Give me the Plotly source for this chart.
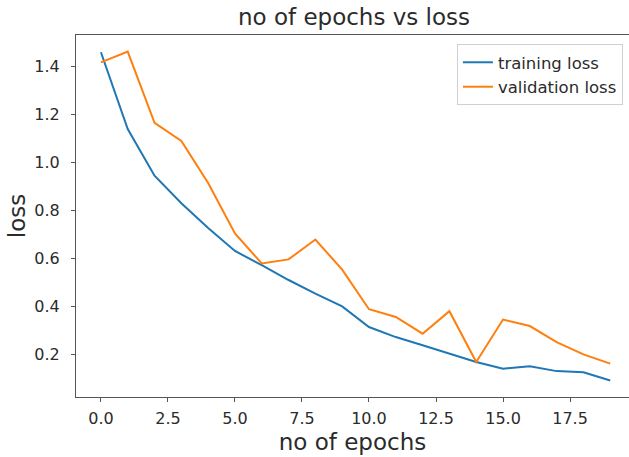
import plotly.graph_objects as go

epochs = list(range(20))
training_loss = [1.46, 1.14, 0.945, 0.83, 0.727, 0.631, 0.572, 0.51, 0.453, 0.40,
                 0.314, 0.272, 0.238, 0.203, 0.168, 0.14, 0.15, 0.13, 0.125, 0.091]
validation_loss = [1.418, 1.463, 1.166, 1.09, 0.915, 0.704, 0.579, 0.596, 0.679, 0.553,
                   0.388, 0.356, 0.286, 0.38, 0.168, 0.345, 0.318, 0.251, 0.2, 0.161]
x_ticks = [0.0, 2.5, 5.0, 7.5, 10.0, 12.5, 15.0, 17.5]
y_ticks = [0.2, 0.4, 0.6, 0.8, 1.0, 1.2, 1.4]

FONT = "DejaVu Sans"
TXT = "#2b2b2b"
SPINE = "#555555"

fig = go.Figure()
fig.add_trace(go.Scatter(x=epochs, y=training_loss, mode="lines", name="training loss",
                         line=dict(color="#1f77b4", width=2)))
fig.add_trace(go.Scatter(x=epochs, y=validation_loss, mode="lines", name="validation loss",
                         line=dict(color="#ff7f0e", width=2)))

fig.update_layout(
    width=629, height=457,
    margin=dict(l=76, r=0, t=35, b=60),
    paper_bgcolor="white", plot_bgcolor="white",
    font=dict(family=FONT, color=TXT, size=16),
    title=dict(text="no of epochs vs loss", x=354 / 629, xanchor="center",
               y=1 - 17 / 457, yanchor="middle", yref="container",
               font=dict(family=FONT, size=23, color=TXT)),
    showlegend=True,
    legend=dict(x=0.989, xanchor="right", y=0.975, yanchor="top",
                bgcolor="rgba(255,255,255,0.8)", bordercolor="#d0d0d0", borderwidth=1,
                font=dict(family=FONT, size=16.5, color=TXT)),
)
fig.update_xaxes(range=[-0.93, 19.7], tickvals=x_ticks,
                 ticktext=[f"{v:.1f}" for v in x_ticks],
                 showgrid=False, zeroline=False, showline=True, linecolor=SPINE, linewidth=1,
                 mirror=True, ticks="outside", ticklen=4, tickcolor=SPINE,
                 ticklabelstandoff=3, automargin=False,
                 tickfont=dict(family=FONT, size=16, color=TXT),
                 title=dict(text="no of epochs", font=dict(family=FONT, size=23, color=TXT), standoff=6))
fig.update_yaxes(range=[0.022, 1.532], tickvals=y_ticks,
                 ticktext=[f"{v:.1f}" for v in y_ticks],
                 showgrid=False, zeroline=False, showline=True, linecolor=SPINE, linewidth=1,
                 ticks="outside", ticklen=4, tickcolor=SPINE,
                 ticklabelstandoff=8, automargin=False,
                 tickfont=dict(family=FONT, size=16, color=TXT),
                 title=dict(text="loss", font=dict(family=FONT, size=23, color=TXT), standoff=2))

fig.write_html("out.html", config={"displayModeBar": False},
               post_script="document.body.style.margin='0px';")
